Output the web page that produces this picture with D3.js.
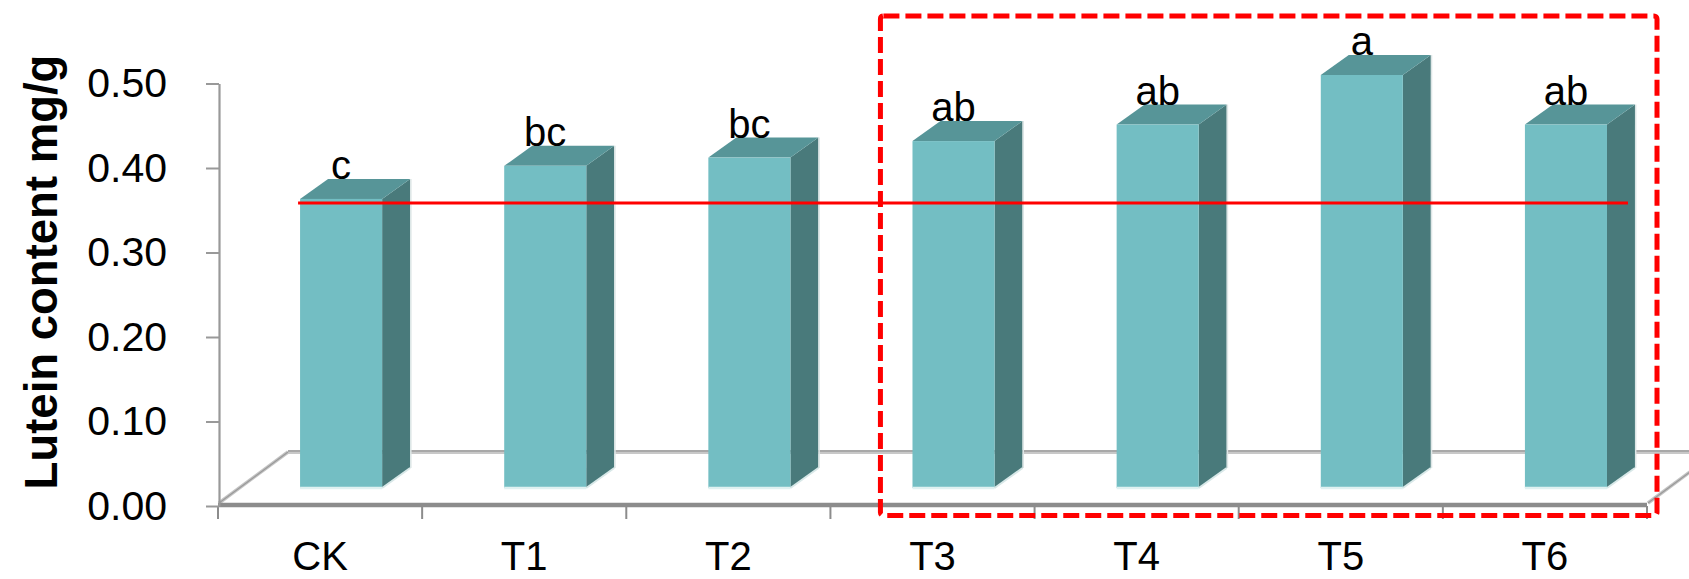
<!DOCTYPE html>
<html><head><meta charset="utf-8">
<script src="https://cdn.jsdelivr.net/npm/d3@7"></script>
<style>body{margin:0;background:#fff}svg{display:block}text{font-family:"Liberation Sans",Arial,sans-serif}</style>
</head><body><svg id="c" width="1689" height="579"></svg>
<script>
const categories = ["CK","T1","T2","T3","T4","T5","T6"];
const values = [0.35,0.39,0.40,0.42,0.44,0.50,0.44];
const letters = ["c","bc","bc","ab","ab","a","ab"];
const yTicks = [0,0.1,0.2,0.3,0.4,0.5];
const refValue = 0.345;
const highlighted = ["T3","T4","T5","T6"];

const svg = d3.select("#c");
const x = d3.scaleBand().domain(categories).range([218,1647]);
const y = d3.scaleLinear().domain([0,0.5]).range([506,83.5]);      // axis (front plane)
const yb = d3.scaleLinear().domain([0,0.5]).range([488,75]);       // bar plane (depth)
const depth = {dx:70, dy:-54};
const side = {dx:28, dy:-20};
const bw = x.bandwidth();
const frontL = d => x(d)+bw*0.402;
const frontR = d => x(d)+bw*0.804;

// floor
const g = svg.append("g");
g.append("line").attr("x1",x.range()[0]+depth.dx).attr("x2",x.range()[1]+depth.dx)
 .attr("y1",y(0)+depth.dy).attr("y2",y(0)+depth.dy).attr("stroke","#c8c8c8").attr("stroke-width",4);
g.append("line").attr("x1",x.range()[0]+depth.dx).attr("x2",x.range()[1]+depth.dx)
 .attr("y1",y(0)+depth.dy-1).attr("y2",y(0)+depth.dy-1).attr("stroke","#a8a8a8").attr("stroke-width",2);
[x.range()[0], x.range()[1]].forEach(x0=>{
  g.append("line").attr("x1",x0+1).attr("y1",y(0)-3).attr("x2",x0+depth.dx).attr("y2",y(0)+depth.dy)
   .attr("stroke","#c4c4c4").attr("stroke-width",3.5);
  g.append("line").attr("x1",x0+1).attr("y1",y(0)-3).attr("x2",x0+depth.dx).attr("y2",y(0)+depth.dy)
   .attr("stroke","#9a9a9a").attr("stroke-width",1.2);
});

// bars
const bars = svg.append("g").selectAll("g").data(categories).join("g");
bars.append("path").attr("fill","#497a7b")
 .attr("d",(d,i)=>{const r=frontR(d),t=yb(values[i]),b=yb(0);
   return `M${r},${t}L${r+side.dx},${t+side.dy}L${r+side.dx},${b+side.dy}L${r},${b}Z`;});
bars.append("path").attr("fill","#579598")
 .attr("d",(d,i)=>{const l=frontL(d),r=frontR(d),t=yb(values[i]);
   return `M${l},${t}L${l+side.dx},${t+side.dy}L${r+side.dx},${t+side.dy}L${r},${t}Z`;});
bars.append("rect").attr("fill","#73bec3")
 .attr("x",d=>frontL(d)).attr("width",d=>frontR(d)-frontL(d))
 .attr("y",(d,i)=>yb(values[i])).attr("height",(d,i)=>yb(0)-yb(values[i]));
bars.append("line").attr("stroke","#dff1f1").attr("stroke-width",2.5)
 .attr("x1",d=>frontL(d)).attr("x2",d=>frontR(d)).attr("y1",yb(0)).attr("y2",yb(0));
bars.append("line").attr("stroke","#d8e8e8").attr("stroke-width",2)
 .attr("x1",d=>frontR(d)).attr("x2",d=>frontR(d)+side.dx).attr("y1",yb(0)).attr("y2",yb(0)+side.dy);
bars.append("line").attr("stroke","#dde6e6").attr("stroke-width",1.5)
 .attr("x1",d=>frontR(d)+side.dx+0.7).attr("x2",d=>frontR(d)+side.dx+0.7)
 .attr("y1",(d,i)=>yb(values[i])+side.dy).attr("y2",yb(0)+side.dy);
bars.append("text").attr("text-anchor","middle").attr("font-size",40).attr("fill","#000")
 .attr("x",d=>(frontL(d)+frontR(d))/2).attr("y",(d,i)=>yb(values[i])-20).text((d,i)=>letters[i]);

// reference line
svg.append("line").attr("x1",frontL(categories[0])-2).attr("x2",frontR(categories[categories.length-1])+21)
 .attr("y1",yb(refValue)).attr("y2",yb(refValue)).attr("stroke","#ff0000").attr("stroke-width",3);

// front axis line
svg.append("line").attr("x1",x.range()[0]).attr("x2",x.range()[1]).attr("y1",y(0)-1).attr("y2",y(0)-1)
 .attr("stroke","#8c8c8c").attr("stroke-width",4.5);

// x axis
const xa = svg.append("g").attr("transform",`translate(0,${y(0)})`)
 .call(d3.axisBottom(x).tickSize(0).tickPadding(64).tickSizeOuter(0));
xa.select(".domain").remove();
xa.selectAll("text").attr("font-size",40).attr("fill","#000").attr("font-family","Liberation Sans, Arial, sans-serif").attr("dy",0);
const bounds = categories.map(c=>x(c)).concat([x.range()[1]]);
svg.append("g").selectAll("line").data(bounds).join("line")
 .attr("x1",d=>d).attr("x2",d=>d).attr("y1",y(0)).attr("y2",y(0)+13).attr("stroke","#8c8c8c").attr("stroke-width",2);

// y axis
const ya = svg.append("g").attr("transform","translate(219,0)")
 .call(d3.axisLeft(y).tickValues(yTicks).tickFormat(d3.format(".2f")).tickSize(13).tickPadding(39).tickSizeOuter(0));
ya.select(".domain").attr("stroke","#999").attr("stroke-width",2.2);
ya.selectAll(".tick line").attr("stroke","#999").attr("stroke-width",2);
ya.selectAll("text").attr("font-size",41).attr("fill","#000").attr("font-family","Liberation Sans, Arial, sans-serif");

svg.append("text").attr("transform","translate(57,272) rotate(-90)").attr("text-anchor","middle")
 .attr("font-size",45.5).attr("font-weight","bold").text("Lutein content mg/g");

// dashed highlight box
const hl = highlighted.map(c=>x(c));
svg.append("rect").attr("x",hl[0]+50).attr("y",16).attr("width",x.range()[1]+10-(hl[0]+50)).attr("height",499.5)
 .attr("rx",3).attr("fill","none").attr("stroke","#ff0000").attr("stroke-width",5).attr("stroke-dasharray","16,6");
</script></body></html>
